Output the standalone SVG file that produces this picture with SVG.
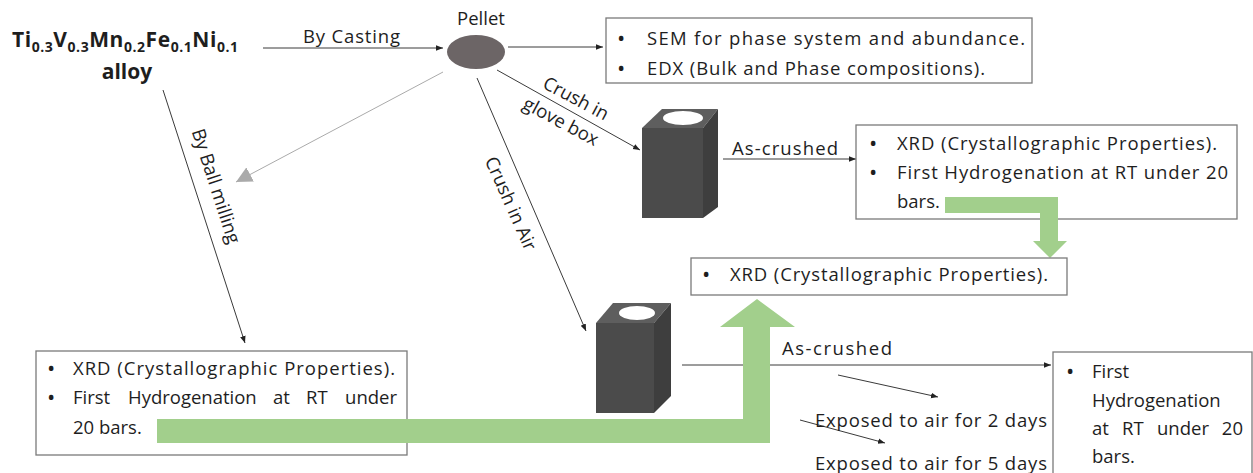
<svg xmlns="http://www.w3.org/2000/svg" width="1253" height="473" viewBox="0 0 1253 473">
  <style>
    text { font-family: "Open Sans", "Liberation Sans", sans-serif; fill: #1e1e1e; }
    .t { font-size: 18.5px; }
    .b { font-size: 22px; }
    .lbl { font-size: 18.5px; }
    .bold { font-weight: bold; font-size: 21px; }
    .sub { font-size: 14px; }
    .box { fill: #ffffff; stroke: #7a7a7a; stroke-width: 1.3; }
    .link { fill: none; stroke: #3a3a3a; stroke-width: 1; }
    .green { fill: #a2cf8c; }
    .front { fill: #4b4b4b; }
    .side { fill: #3e3e3e; }
    .top { fill: #5e5e5e; }
  </style>
  <defs>
    <marker id="ah" viewBox="0 0 10 10" refX="10" refY="5" markerWidth="7" markerHeight="7" orient="auto" markerUnits="userSpaceOnUse">
      <path d="M0,1 L10,5 L0,9 Z" fill="#222222"/>
    </marker>
    <marker id="ahGray" viewBox="0 0 10 10" refX="10" refY="5" markerWidth="16" markerHeight="16" orient="auto" markerUnits="userSpaceOnUse">
      <path d="M0,0 L10,5 L0,10 Z" fill="#aaaaaa"/>
    </marker>
  </defs>

  <!-- starting alloy -->
  <g id="alloy">
    <text class="bold" x="12" y="47" textLength="226" lengthAdjust="spacing">Ti<tspan class="sub" dy="5">0.3</tspan><tspan dy="-5">V</tspan><tspan class="sub" dy="5">0.3</tspan><tspan dy="-5">Mn</tspan><tspan class="sub" dy="5">0.2</tspan><tspan dy="-5">Fe</tspan><tspan class="sub" dy="5">0.1</tspan><tspan dy="-5">Ni</tspan><tspan class="sub" dy="5">0.1</tspan></text>
    <text class="bold" x="127" y="79" text-anchor="middle">alloy</text>
  </g>

  <!-- connectors -->
  <g id="connectors">
    <line class="link" x1="263" y1="48" x2="443" y2="48" marker-end="url(#ah)"/>
    <line class="link" x1="508" y1="47" x2="603" y2="47" stroke="#555555" marker-end="url(#ah)"/>
    <line class="link" x1="497" y1="70" x2="640" y2="150" stroke="#555555" marker-end="url(#ah)"/>
    <line class="link" x1="477" y1="78" x2="586" y2="331" stroke="#555555" marker-end="url(#ah)"/>
    <line x1="443" y1="72" x2="236" y2="182" stroke="#aaaaaa" stroke-width="1" marker-end="url(#ahGray)"/>
    <line class="link" x1="163" y1="90" x2="245" y2="343" stroke="#555555" marker-end="url(#ah)"/>
    <line class="link" x1="723" y1="159" x2="856" y2="159" stroke="#555555" marker-end="url(#ah)"/>
    <line class="link" x1="682" y1="365" x2="1051" y2="365" marker-end="url(#ah)"/>
    <line class="link" x1="838" y1="375" x2="938" y2="397" stroke="#444444" marker-end="url(#ah)"/>
    <line class="link" x1="800" y1="420" x2="885" y2="443" stroke="#444444" marker-end="url(#ah)"/>

    <text class="lbl" x="303" y="43" textLength="97" lengthAdjust="spacing">By Casting</text>
    <text class="lbl" transform="translate(573,104) rotate(28)" text-anchor="middle">Crush in</text>
    <text class="lbl" transform="translate(558,127) rotate(28)" text-anchor="middle">glove box</text>
    <text class="lbl" transform="translate(505,206) rotate(66)" text-anchor="middle">Crush in Air</text>
    <text class="lbl" transform="translate(210,188) rotate(72)" text-anchor="middle">By Ball milling</text>
    <text class="lbl" x="732" y="155" textLength="106" lengthAdjust="spacing">As-crushed</text>
    <text class="lbl" x="782" y="355" textLength="110" lengthAdjust="spacing">As-crushed</text>
    <text class="lbl" x="815" y="427" textLength="232" lengthAdjust="spacing">Exposed to air for 2 days</text>
    <text class="lbl" x="815" y="470" textLength="232" lengthAdjust="spacing">Exposed to air for 5 days</text>
  </g>

  <!-- cast pellet -->
  <g id="pellet">
    <text class="lbl" x="481" y="25" text-anchor="middle">Pellet</text>
    <ellipse cx="476" cy="52" rx="29" ry="17" fill="#6c6566"/>
  </g>

  <!-- SEM / EDX characterisation -->
  <g id="sem-box">
    <rect class="box" x="606" y="18" width="426" height="65"/>
    <text class="b" x="617" y="46">•</text>
    <text class="t" x="647" y="45" textLength="378" lengthAdjust="spacing">SEM for phase system and abundance.</text>
    <text class="b" x="617" y="76">•</text>
    <text class="t" x="647" y="75" textLength="338" lengthAdjust="spacing">EDX (Bulk and Phase compositions).</text>
  </g>

  <!-- powder crushed in glove box -->
  <g id="cube-glovebox">
    <path class="top" d="M642,128 L662,109 H718 L703,128 Z"/>
    <ellipse cx="683" cy="118" rx="20" ry="7" fill="#ffffff"/>
    <rect class="front" x="642" y="128" width="61" height="90"/>
    <path class="side" d="M703,128 L718,109 V207 L703,218 Z"/>
  </g>

  <!-- glove-box sample characterisation -->
  <g id="glovebox-box">
    <rect class="box" x="856" y="125" width="381" height="94"/>
    <text class="b" x="869" y="151">•</text>
    <text class="t" x="897" y="150" textLength="320" lengthAdjust="spacing">XRD (Crystallographic Properties).</text>
    <text class="b" x="869" y="180">•</text>
    <text class="t" x="897" y="179" textLength="331" lengthAdjust="spacing">First Hydrogenation at RT under 20</text>
    <text class="t" x="897" y="208">bars.</text>
  </g>

  <!-- green arrow from glove-box results down to XRD -->
  <g id="green-arrow-right">
    <path class="green" d="M945,197 H1058 V241 H1067 L1050,258 L1033,241 H1040 V213 H945 Z"/>
  </g>

  <!-- common XRD after hydrogenation -->
  <g id="xrd-box">
    <rect class="box" x="691" y="258" width="376" height="37"/>
    <text class="b" x="702" y="282">•</text>
    <text class="t" x="730" y="281" textLength="318" lengthAdjust="spacing">XRD (Crystallographic Properties).</text>
  </g>

  <!-- powder crushed in air -->
  <g id="cube-air">
    <path class="top" d="M596,323 L613,303 H671 L654,323 Z"/>
    <ellipse cx="637" cy="313" rx="18" ry="7" fill="#ffffff"/>
    <rect class="front" x="596" y="323" width="58" height="90"/>
    <path class="side" d="M654,323 L671,303 V396 L654,413 Z"/>
  </g>

  <!-- ball-milled sample characterisation (justified second line) -->
  <g id="ballmill-box">
    <rect class="box" x="36" y="351" width="371" height="104"/>
    <text class="b" x="47" y="376">•</text>
    <text class="t" x="73" y="375" textLength="322" lengthAdjust="spacing">XRD (Crystallographic Properties).</text>
    <text class="b" x="47" y="405">•</text>
    <text class="t" x="73" y="404">First</text>
    <text class="t" x="128" y="404">Hydrogenation</text>
    <text class="t" x="273" y="404">at</text>
    <text class="t" x="306" y="404">RT</text>
    <text class="t" x="397" y="404" text-anchor="end">under</text>
    <text class="t" x="73" y="434">20 bars.</text>
  </g>

  <!-- arrow from ball-milled results up to XRD -->
  <g id="green-arrow-main">
    <path class="green" d="M157,419 H743 V327 H720 L757,299 L795,327 H770 V443 H157 Z"/>
  </g>

  <!-- air-exposed sample hydrogenation -->
  <g id="air-box">
    <rect class="box" x="1053" y="352" width="199" height="130"/>
    <text class="b" x="1066" y="379">•</text>
    <text class="t" x="1092" y="378">First</text>
    <text class="t" x="1092" y="407">Hydrogenation</text>
    <text class="t" x="1092" y="435">at</text>
    <text class="t" x="1122" y="435">RT</text>
    <text class="t" x="1157" y="435">under</text>
    <text class="t" x="1243" y="435" text-anchor="end">20</text>
    <text class="t" x="1092" y="463">bars.</text>
  </g>
</svg>
